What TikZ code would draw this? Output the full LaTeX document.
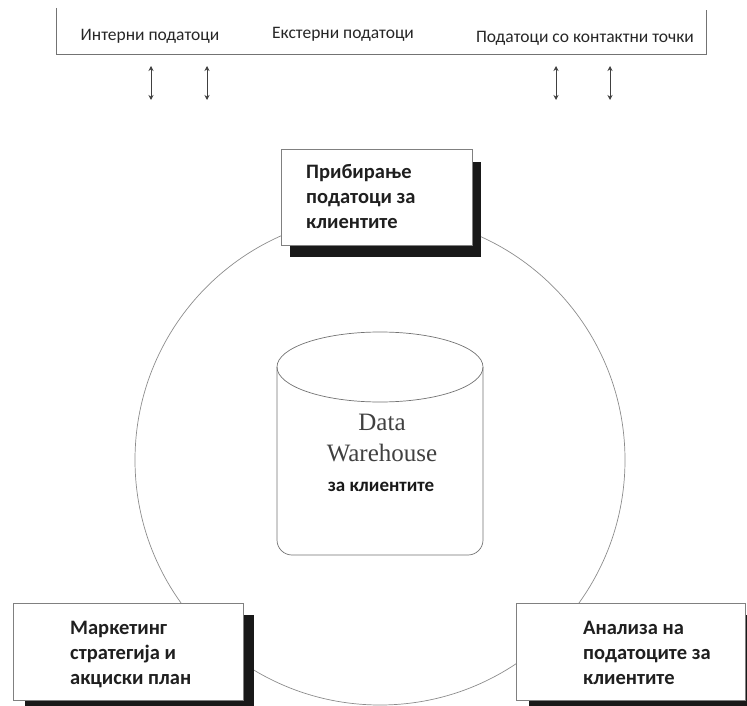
\documentclass[tikz,border=0pt]{standalone}
\usepackage{fontspec}
\setmainfont{Carlito}
\newfontfamily\whserif{Liberation Serif}
\usetikzlibrary{arrows.meta}
\begin{document}
\begin{tikzpicture}[x=1pt,y=-1pt,
  thinline/.style={draw=black!55, line width=0.7pt},
  boxstyle/.style={draw=black!50, line width=0.6pt, fill=white, anchor=north west, inner sep=0pt},
  shadowstyle/.style={fill=black!90, draw=none, anchor=north west, inner sep=0pt},
  toplabel/.style={font=\fontsize{17.5}{20}\selectfont, text=black!85, inner sep=0pt},
  boxtext/.style={font=\bfseries\fontsize{20.5}{25}\selectfont, text=black!88, align=left, anchor=west, inner sep=0pt},
  dblarrow/.style={draw=black!75, line width=0.9pt, {Stealth[length=5pt,width=5pt]}-{Stealth[length=5pt,width=5pt]}}
]
\useasboundingbox (0,0) rectangle (747,706);
% top bar
\draw[thinline] (56,8) -- (56,54) -- (706,54) -- (706,10);
\node[toplabel] (intl) at (150,36) {Интерни податоци};
\node[toplabel] (extl) at (343,34) {Екстерни податоци};
\node[toplabel] (ctl) at (585,38) {Податоци со контактни точки};
% arrows
\foreach \i/\xx in {1/151,2/207,3/556,4/610}{
  \coordinate (a\i t) at (\xx,66);
  \coordinate (a\i b) at (\xx,100);
  \draw[dblarrow] (a\i t) -- (a\i b);
}
% big circle
\node[draw=black!45, line width=0.7pt, circle, minimum size=490pt, inner sep=0pt] (ring) at (380,460) {};
% cylinder
\coordinate (cyltop) at (380,367);
\draw[thinline, fill=white, rounded corners=15pt] (277,367) -- (277,555) -- (483,555) -- (483,367);
\draw[thinline] (cyltop) ellipse [x radius=103, y radius=35];
\node[font=\whserif\fontsize{25}{31}\selectfont, text=black!75, align=center, inner sep=0pt] (dw) at (382,438) {Data\\Warehouse};
\node[font=\bfseries\fontsize{19}{22}\selectfont, text=black!90, inner sep=0pt] (dwk) at (381,487) {за клиентите};
% top box
\node[shadowstyle, minimum width=191pt, minimum height=95pt] (s1) at (290,162) {};
\node[boxstyle, minimum width=191pt, minimum height=96pt] (b1) at (281,149) {};
\node[boxtext] (t1) at (306,197) {Прибирање\\податоци за\\клиентите};
% bottom left box
\node[shadowstyle, minimum width=229pt, minimum height=97pt] (s2) at (25,615) {};
\node[boxstyle, minimum width=230pt, minimum height=97pt] (b2) at (13,603) {};
\node[boxtext] (t2) at (70,654) {Маркетинг\\стратегија и\\акциски план};
% bottom right box
\node[shadowstyle, minimum width=229pt, minimum height=97pt] (s3) at (529,615) {};
\node[boxstyle, minimum width=229pt, minimum height=97pt] (b3) at (516,603) {};
\node[boxtext] (t3) at (583,653) {Анализа на\\податоците за\\клиентите};
\end{tikzpicture}
\end{document}
